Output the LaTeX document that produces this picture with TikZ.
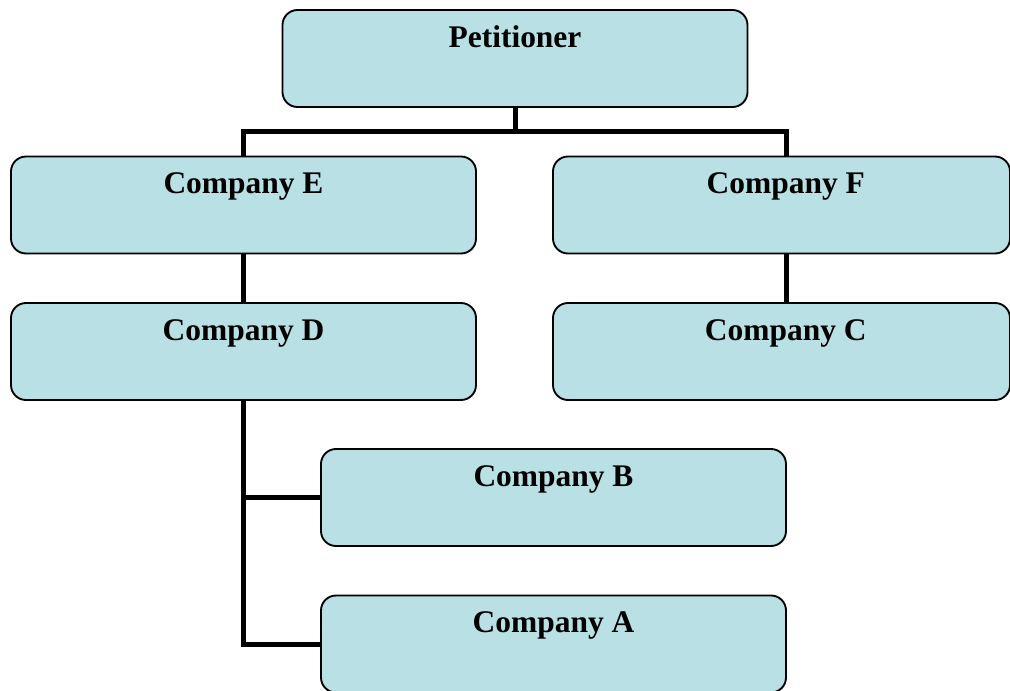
\documentclass[tikz,border=0pt]{standalone}
\usepackage{fontspec}
\setmainfont{Liberation Serif}
\definecolor{boxfill}{HTML}{B9E0E4}
\begin{document}
\begin{tikzpicture}[x=0.75pt,y=-0.75pt,
  orgbox/.style={draw=black, line width=1.4pt, fill=boxfill,
    rounded corners=11.25pt, minimum width=348.75pt, inner sep=0pt,
    text height=27.75pt, text depth=45pt,
    font=\fontsize{23.6}{28}\selectfont\bfseries},
  conn/.style={draw=black, line width=3.75pt}]
\useasboundingbox (0,0) rectangle (1010,690);
\node[orgbox] (p) at (515,58.5) {Petitioner};
\node[orgbox] (e) at (243.5,205) {Company E};
\node[orgbox, minimum width=342.75pt] (f) at (781.5,205) {\hspace*{6.5pt}Company F};
\node[orgbox] (d) at (243.5,351.5) {Company D};
\node[orgbox, minimum width=342.75pt] (c) at (781.5,351.5) {\hspace*{6.5pt}Company C};
\node[orgbox] (b) at (553.5,497.5) {Company B};
\node[orgbox] (a) at (553.5,644) {Company A};
\coordinate (bar) at (0,131);
\draw[conn] (p.south) -- (p.south |- bar) -| (e.north);
\draw[conn] (p.south |- bar) -| ([xshift=3.9pt]f.north);
\draw[conn] (e.south) -- (d.north);
\draw[conn] ([xshift=3.9pt]f.south) -- ([xshift=3.9pt]c.north);
\draw[conn] (d.south) |- (b.west);
\draw[conn] (d.south) |- (a.west);
\end{tikzpicture}
\end{document}
